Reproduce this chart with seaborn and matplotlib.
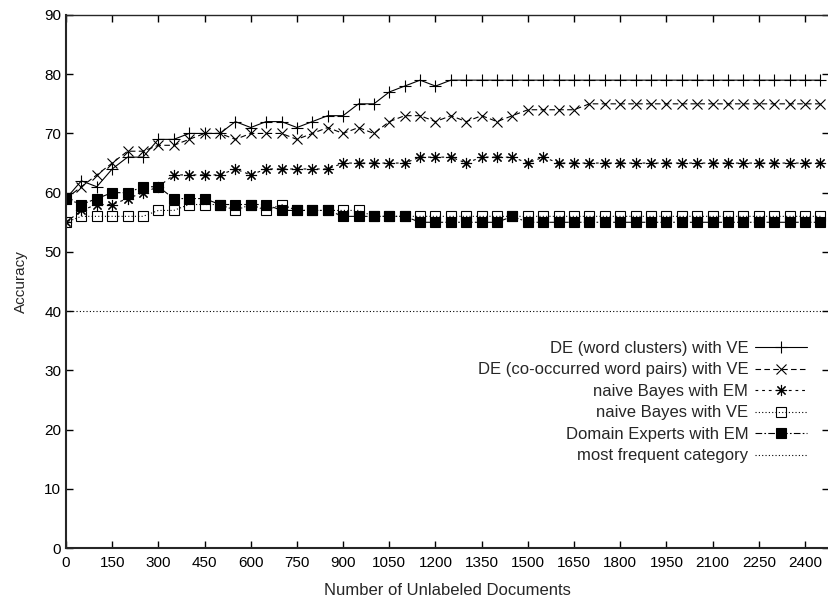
import matplotlib
matplotlib.use('Agg')
import matplotlib.pyplot as plt
import seaborn as sns

# number of unlabeled documents (x positions of the points)
docs = [0, 50, 100, 150, 200, 250, 300, 350, 400, 450,
        500, 550, 600, 650, 700, 750, 800, 850, 900, 950,
        1000, 1050, 1100, 1150, 1200, 1250, 1300, 1350, 1400, 1450,
        1500, 1550, 1600, 1650, 1700, 1750, 1800, 1850, 1900, 1950,
        2000, 2050, 2100, 2150, 2200, 2250, 2300, 2350, 2400, 2450]

de_clusters = [59, 62, 61, 64, 66, 66, 69, 69, 70, 70,
               70, 72, 71, 72, 72, 71, 72, 73, 73, 75,
               75, 77, 78, 79, 78, 79, 79, 79, 79, 79,
               79, 79, 79, 79, 79, 79, 79, 79, 79, 79,
               79, 79, 79, 79, 79, 79, 79, 79, 79, 79]

de_pairs = [59, 61, 63, 65, 67, 67, 68, 68, 69, 70,
            70, 69, 70, 70, 70, 69, 70, 71, 70, 71,
            70, 72, 73, 73, 72, 73, 72, 73, 72, 73,
            74, 74, 74, 74, 75, 75, 75, 75, 75, 75,
            75, 75, 75, 75, 75, 75, 75, 75, 75, 75]

nb_em = [55, 57, 58, 58, 59, 60, 61, 63, 63, 63,
         63, 64, 63, 64, 64, 64, 64, 64, 65, 65,
         65, 65, 65, 66, 66, 66, 65, 66, 66, 66,
         65, 66, 65, 65, 65, 65, 65, 65, 65, 65,
         65, 65, 65, 65, 65, 65, 65, 65, 65, 65]

nb_ve = [55, 56, 56, 56, 56, 56, 57, 57, 58, 58,
         58, 57, 58, 57, 58, 57, 57, 57, 57, 57,
         56, 56, 56, 56, 56, 56, 56, 56, 56, 56,
         56, 56, 56, 56, 56, 56, 56, 56, 56, 56,
         56, 56, 56, 56, 56, 56, 56, 56, 56, 56]

domain_em = [59, 58, 59, 60, 60, 61, 61, 59, 59, 59,
             58, 58, 58, 58, 57, 57, 57, 57, 56, 56,
             56, 56, 56, 55, 55, 55, 55, 55, 55, 56,
             55, 55, 55, 55, 55, 55, 55, 55, 55, 55,
             55, 55, 55, 55, 55, 55, 55, 55, 55, 55]

most_frequent = 40

labels = ['DE (word clusters) with VE',
          'DE (co-occurred word pairs) with VE',
          'naive Bayes with EM',
          'naive Bayes with VE',
          'Domain Experts with EM',
          'most frequent category']

sns.set_style('ticks')
plt.rcParams['font.family'] = ['Liberation Sans', 'DejaVu Sans']

fig = plt.figure(figsize=(8.29, 5.99), dpi=100)
ax = fig.add_axes([66 / 829, 51 / 599, (829 - 66) / 829, (548 - 15) / 599])

# gnuplot-like point / line styles
styles = [
    dict(marker='+', markersize=8, linestyle='-', markerfacecolor='black'),
    dict(marker='x', markersize=6.5, linestyle=(0, (5, 3))),
    dict(marker=(8, 2, 0), markersize=8, linestyle=(0, (2.5, 3.5))),
    dict(marker='s', markersize=6.5, linestyle=(0, (1, 2)), markerfacecolor='none'),
    dict(marker='s', markersize=7, linestyle=(0, (6, 2, 1.5, 2)), markerfacecolor='black'),
]
series = [de_clusters, de_pairs, nb_em, nb_ve, domain_em]

for vals, lab, st in zip(series, labels, styles):
    sns.lineplot(x=docs, y=vals, ax=ax, color='black', linewidth=0.8,
                 markeredgecolor='black', markeredgewidth=0.8, label=lab, **st)

ax.axhline(most_frequent, color='black', linewidth=0.8, linestyle=(0, (1, 2)),
           label=labels[5])

ax.set_xlim(0, 2478)
ax.set_ylim(0, 90)
ax.set_xticks(list(range(0, 2401, 150)))
ax.set_yticks(list(range(0, 91, 10)))
ax.tick_params(direction='in', top=True, right=True, length=5, width=1,
               labelsize=11, colors='black')
ax.tick_params(axis='x', pad=6)
ax.spines['left'].set_linewidth(1.5)
ax.spines['bottom'].set_linewidth(1.5)
ax.spines['top'].set_linewidth(1.0)
ax.spines['right'].set_visible(False)

ax.set_xlabel('Number of Unlabeled Documents', fontsize=12, labelpad=9)
ax.set_ylabel('Accuracy', fontsize=11, labelpad=12)

ax.legend(loc='upper right', bbox_to_anchor=(807 / 829, 1 - 341 / 599),
          bbox_transform=fig.transFigure, frameon=False, markerfirst=False,
          handlelength=3.1, handletextpad=0.42, labelspacing=0.39,
          borderpad=0, borderaxespad=0, fontsize=12)

fig.savefig('out.png', dpi=100)
